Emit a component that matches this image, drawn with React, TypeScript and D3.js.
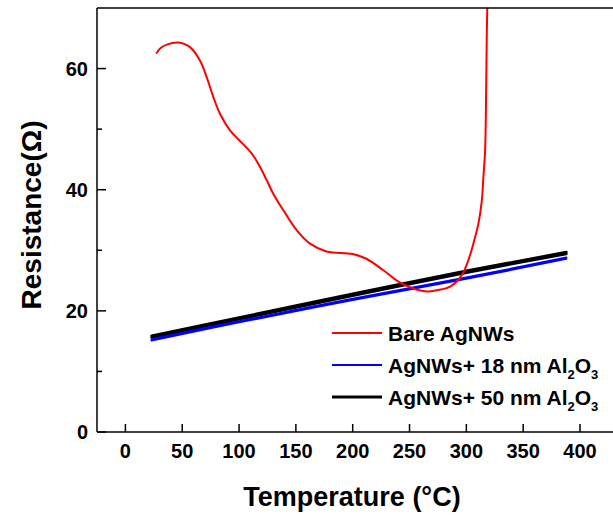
import * as d3 from "d3";

// temperature (°C) / resistance (Ω)
const bareT = [27.6, 31, 37, 46.5, 57, 65.7, 71.5, 77.4, 83.3, 92, 100, 106.8, 112.6, 118, 124, 130.2, 139, 150.8, 162.5, 177, 200, 212, 227, 238.8, 250.5, 265, 274, 285.7, 296, 301.8, 306.2, 310.6, 313.6, 315, 316.5, 317.4, 318, 319];
const bareR = [62.6, 63.4, 64.0, 64.3, 63.5, 61.3, 58.6, 55.3, 52.5, 49.8, 48.2, 46.9, 45.6, 43.9, 41.7, 39.3, 36.6, 33.3, 31.1, 29.8, 29.4, 28.6, 26.7, 25.0, 23.9, 23.2, 23.4, 24.0, 25.9, 28.4, 31.1, 34.4, 38.2, 42.1, 46.5, 56, 66, 75];

const loopT = [23, 100, 200, 300, 388];
const al18Up = [15.3, 18.3, 22.0, 25.5, 28.8];
const al18Down = [15.1, 18.1, 21.8, 25.3, 28.6];
const al50Up = [15.9, 18.9, 22.8, 26.6, 29.7];
const al50Down = [15.6, 18.6, 22.5, 26.3, 29.4];

const xTicks = [0, 50, 100, 150, 200, 250, 300, 350, 400];
const yTicks = [0, 20, 40, 60];
const yMinor = [10, 30, 50];

const legendItems = [
  { label: "Bare AgNWs", color: "#ff0000", width: 2, al: false },
  { label: "AgNWs+ 18 nm Al", color: "#0000ff", width: 2, al: true },
  { label: "AgNWs+ 50 nm Al", color: "#000000", width: 3, al: true },
];

const W = 613;
const H = 518;
const font = "'Liberation Sans', Arial, sans-serif";

export default function App() {
  const x = d3.scaleLinear().domain([-25, 400]).range([97, 580]);
  const y = d3.scaleLinear().domain([0, 70]).range([432, 8]);
  const line = d3
    .line<[number, number]>()
    .x((d) => x(d[0]))
    .y((d) => y(d[1]))
    .curve(d3.curveCatmullRom.alpha(0.5));
  const pts = (t: number[], r: number[]) => t.map((v, i) => [v, r[i]] as [number, number]);

  const left = x(-25);
  const bottom = y(0);
  const top = y(70);

  return (
    <svg
      width={W}
      height={H}
      style={{ position: "absolute", left: 0, top: 0, background: "#fff" }}
      fontFamily={font}
      fontWeight="bold"
    >
      <defs>
        <clipPath id="plot">
          <rect x={left} y={top} width={W - left} height={bottom - top} />
        </clipPath>
      </defs>

      <g clipPath="url(#plot)" fill="none" strokeLinejoin="round" strokeLinecap="round">
        <path d={line(pts(loopT, al50Up)) ?? ""} stroke="#000" strokeWidth={2.6} />
        <path d={line(pts(loopT, al50Down)) ?? ""} stroke="#000" strokeWidth={2.6} />
        <path d={line(pts(loopT, al18Up)) ?? ""} stroke="#0000ff" strokeWidth={2} />
        <path d={line(pts(loopT, al18Down)) ?? ""} stroke="#0000ff" strokeWidth={2} />
        <path d={line(pts(bareT, bareR)) ?? ""} stroke="#ff0000" strokeWidth={2} />
      </g>

      {/* frame */}
      <g stroke="#000" strokeWidth={1.5}>
        <line x1={left} x2={left} y1={top} y2={bottom} />
        <line x1={left} x2={W} y1={bottom} y2={bottom} />
        <line x1={left} x2={W} y1={top} y2={top} />
      </g>

      {/* x ticks */}
      {xTicks.map((t) => (
        <g key={"x" + t}>
          <line x1={x(t)} x2={x(t)} y1={bottom} y2={bottom - 8} stroke="#000" strokeWidth={1.5} />
          <text x={x(t)} y={458} textAnchor="middle" fontSize={20}>
            {t}
          </text>
        </g>
      ))}

      {/* y ticks */}
      {yTicks.map((t) => (
        <g key={"y" + t}>
          <line x1={left} x2={left + 9} y1={y(t)} y2={y(t)} stroke="#000" strokeWidth={1.5} />
          <text x={88} y={y(t)} dy="0.35em" textAnchor="end" fontSize={20}>
            {t}
          </text>
        </g>
      ))}
      {yMinor.map((t) => (
        <line key={"m" + t} x1={left} x2={left + 5} y1={y(t)} y2={y(t)} stroke="#000" strokeWidth={1.5} />
      ))}

      {/* axis titles */}
      <text x={352} y={506} textAnchor="middle" fontSize={27}>
        Temperature (°C)
      </text>
      <text transform="translate(41,215) rotate(-90)" textAnchor="middle" fontSize={28}>
        Resistance(Ω)
      </text>

      {/* legend */}
      <rect x={330} y={317} width={277} height={100} fill="#fff" />
      {legendItems.map((it, i) => {
        const ly = 333 + i * 32;
        return (
          <g key={it.label}>
            <line x1={332} x2={382} y1={ly} y2={ly} stroke={it.color} strokeWidth={it.width} />
            <text x={388} y={ly + 8} fontSize={21}>
              {it.label}
              {it.al && (
                <>
                  <tspan fontSize={13} dy={6}>2</tspan>
                  <tspan dy={-6}>O</tspan>
                  <tspan fontSize={13} dy={6}>3</tspan>
                </>
              )}
            </text>
          </g>
        );
      })}
    </svg>
  );
}
